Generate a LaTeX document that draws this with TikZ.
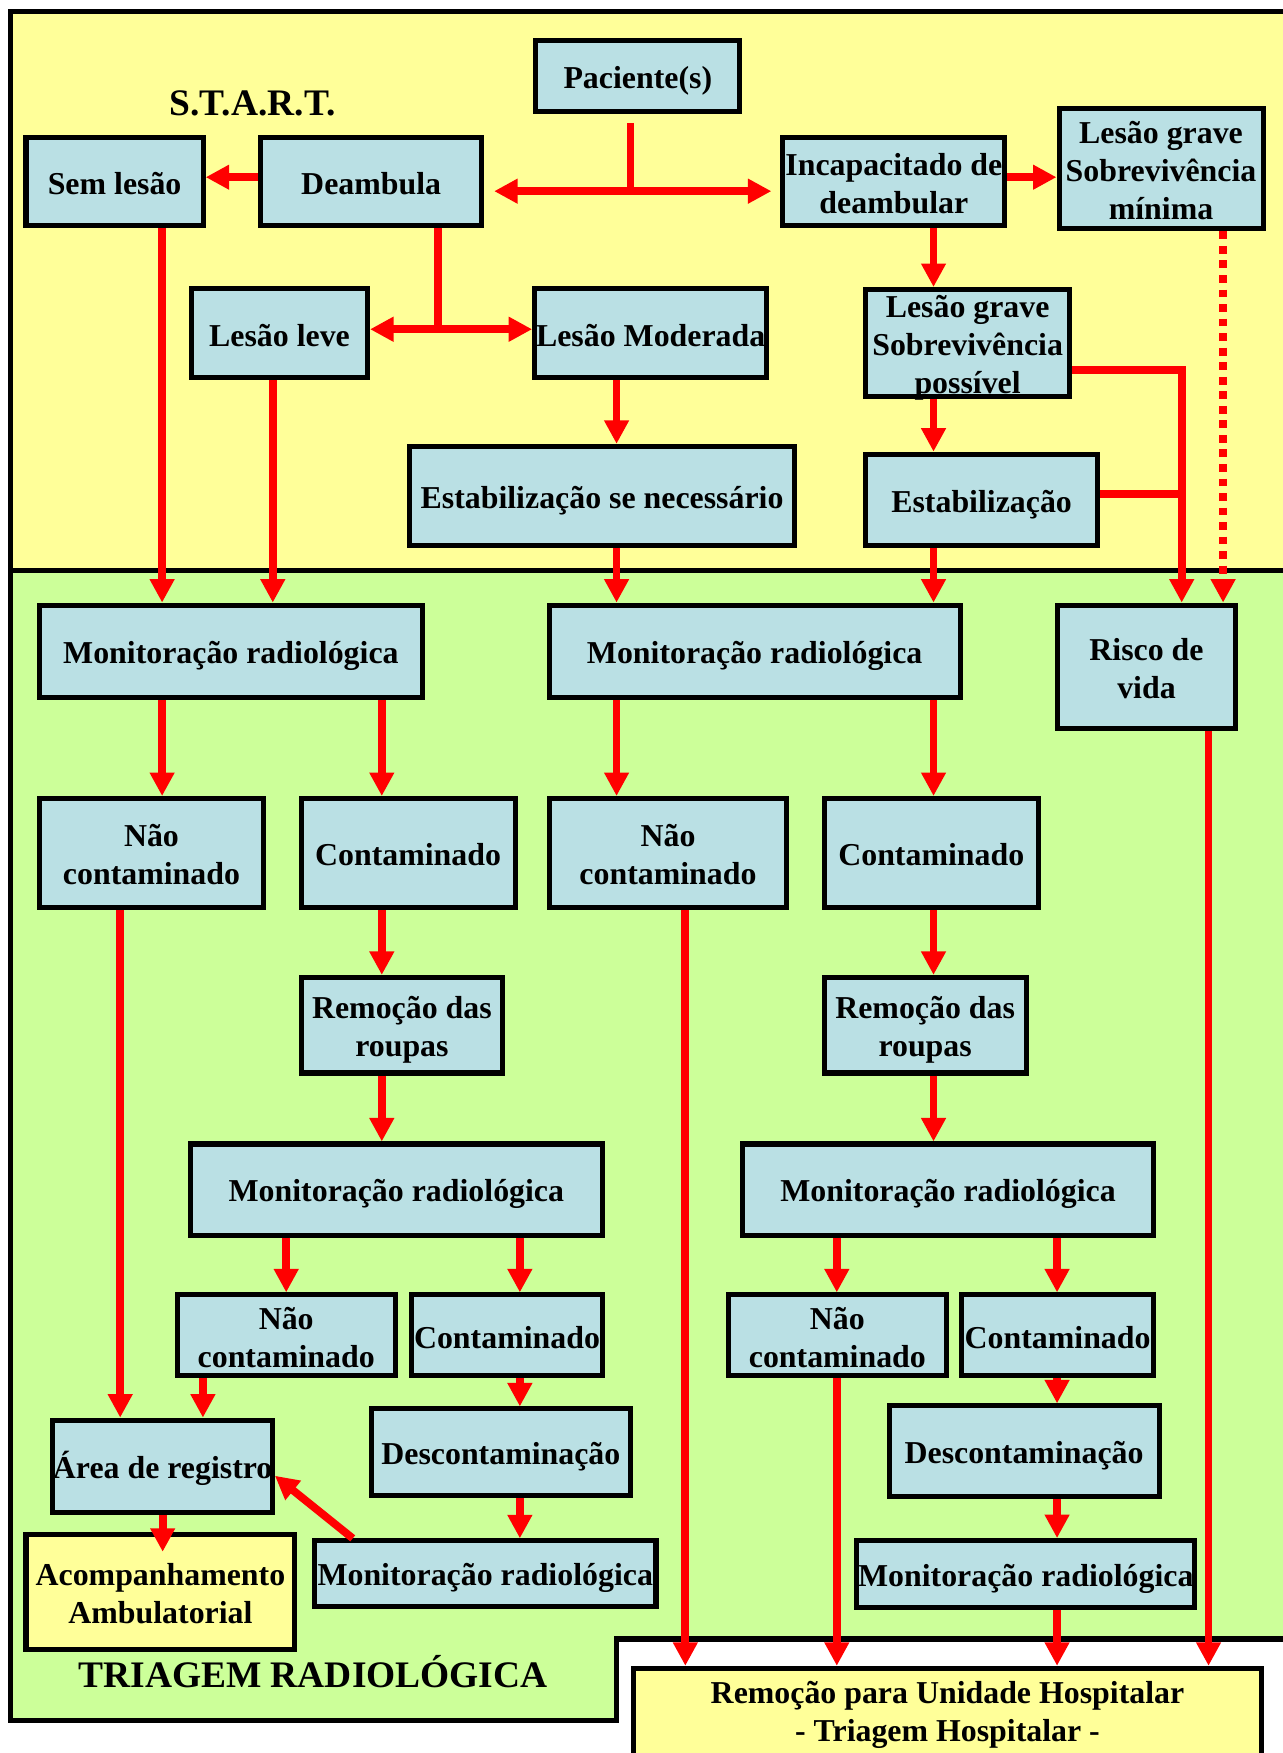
\documentclass[tikz,border=0pt]{standalone}
\usepackage{fontspec}
\setmainfont{Liberation Serif}
\usepackage{tikz}
\usetikzlibrary{arrows.meta}

\definecolor{amarelo}{RGB}{255,255,153}
\definecolor{verde}{RGB}{204,255,153}
\definecolor{azulclaro}{RGB}{186,224,228}
\newcommand{\linhastrut}{\rule[-5.5pt]{0pt}{34pt}}

\begin{document}
\begin{tikzpicture}[x=1pt, y=-1pt, >={Triangle[width=21pt,length=21pt]},
    caixa/.style={draw, line width=4.5pt, fill=azulclaro, align=center, inner sep=0pt,
        font=\fontsize{28.5}{34}\selectfont\bfseries,
        execute at begin node=\linhastrut, execute at end node=\linhastrut},
    titulo/.style={anchor=base, font=\fontsize{33.5}{38}\selectfont\bfseries},
    linha/.style={draw=red, line width=7pt}]
    \useasboundingbox (0,0) rectangle (1147,1568);

    % fundos: S.T.A.R.T. e triagem
    \fill[amarelo] (9,10) rectangle (1160,510);
    \fill[verde] (9,510) -- (1160,510) -- (1160,1466) -- (551,1466) -- (551,1539) -- (9,1539) -- cycle;
    \draw[line width=4.5pt] (1160,10) -- (9,10) -- (9,1539) -- (551,1539) -- (551,1466) -- (1160,1466);
    \draw[line width=4.5pt] (9,510) -- (1160,510);

    \node[titulo] (start) at (226,103) {S.T.A.R.T.};
    \node[titulo] (triagem) at (280,1509) {TRIAGEM RADIOLÓGICA};

    % S.T.A.R.T.
    \node[caixa, minimum width=182.5pt, minimum height=63.5pt] (pac) at (570.5,68) {Paciente(s)};
    \node[caixa, minimum width=158.5pt, minimum height=78.5pt] (semlesao) at (102.5,162.5) {Sem lesão};
    \node[caixa, minimum width=197.5pt, minimum height=78.5pt] (deamb) at (332,162.5) {Deambula};
    \node[caixa, minimum width=198.5pt, minimum height=78.5pt] (incap) at (799.5,162.5) {\linhastrut Incapacitado de\\deambular};
    \node[caixa, minimum width=182.5pt, minimum height=107.5pt] (gravemin) at (1038.5,151) {\linhastrut Lesão grave\\Sobrevivência\\mínima};
    \node[caixa, minimum width=157.5pt, minimum height=79.5pt] (leve) at (250,298) {Lesão leve};
    \node[caixa, minimum width=207.5pt, minimum height=79.5pt] (moder) at (582,298) {Lesão Moderada};
    \node[caixa, inner ysep=-3.25pt, minimum width=182.5pt, minimum height=95.5pt] (gravepos) at (865.5,307) {\linhastrut Lesão grave\\Sobrevivência\\possível};
    \node[caixa, minimum width=344.5pt, minimum height=88.5pt] (estabnec) at (538.5,443.5) {Estabilização se necessário};
    \node[caixa, minimum width=207.5pt, minimum height=81.5pt] (estab) at (878,447) {Estabilização};

    % triagem radiológica
    \node[caixa, minimum width=342.5pt, minimum height=82.5pt] (mon1) at (206.5,582.5) {Monitoração radiológica};
    \node[caixa, minimum width=367.5pt, minimum height=82.5pt] (mon2) at (675,582.5) {Monitoração radiológica};
    \node[caixa, minimum width=158.5pt, minimum height=110.5pt] (risco) at (1025.5,596.5) {\linhastrut Risco de\\vida};
    \node[caixa, minimum width=200.5pt, minimum height=97.5pt] (nc1) at (135.5,763) {\linhastrut Não\\contaminado};
    \node[caixa, minimum width=191.5pt, minimum height=97.5pt] (c1) at (365,763) {Contaminado};
    \node[caixa, minimum width=212.5pt, minimum height=97.5pt] (nc2) at (597.5,763) {\linhastrut Não\\contaminado};
    \node[caixa, minimum width=191.5pt, minimum height=97.5pt] (c2) at (833,763) {Contaminado};
    \node[caixa, minimum width=180.5pt, minimum height=85.5pt] (roupas1) at (359.5,917) {\linhastrut Remoção das\\roupas};
    \node[caixa, minimum width=180.5pt, minimum height=85.5pt] (roupas2) at (827.5,917) {\linhastrut Remoção das\\roupas};
    \node[caixa, minimum width=368.5pt, minimum height=81.5pt] (mon3) at (354.5,1064) {Monitoração radiológica};
    \node[caixa, minimum width=367.5pt, minimum height=81.5pt] (mon4) at (848,1064) {Monitoração radiológica};
    \node[caixa, minimum width=195pt, minimum height=72.5pt] (nc3) at (256,1194.5) {\linhastrut Não\\contaminado};
    \node[caixa, minimum width=170.5pt, minimum height=72.5pt] (c3) at (453.5,1194.5) {Contaminado};
    \node[caixa, minimum width=194.5pt, minimum height=72.5pt] (nc4) at (749,1194.5) {\linhastrut Não\\contaminado};
    \node[caixa, minimum width=171.5pt, minimum height=72.5pt] (c4) at (946,1194.5) {Contaminado};
    \node[caixa, minimum width=194.5pt, minimum height=82.5pt] (area) at (145.5,1311.5) {Área de registro};
    \node[caixa, minimum width=231.5pt, minimum height=77.5pt] (descont1) at (448,1299) {Descontaminação};
    \node[caixa, minimum width=241.5pt, minimum height=81pt] (descont2) at (916,1298) {Descontaminação};
    \node[caixa, fill=amarelo, minimum width=240.5pt, minimum height=103.5pt] (acomp) at (143.5,1424) {\linhastrut Acompanhamento\\Ambulatorial};
    \node[caixa, minimum width=305.5pt, minimum height=58.5pt] (mon5) at (434,1407.5) {Monitoração radiológica};
    \node[caixa, minimum width=302.5pt, minimum height=60pt] (mon6) at (917.5,1408) {Monitoração radiológica};
    \node[caixa, fill=amarelo, minimum width=562.5pt, minimum height=83.5pt] (hosp) at (847.5,1534) {Remoção para Unidade Hospitalar\\- Triagem Hospitalar -};

    % paciente(s) -> deambula / incapacitado
    \coordinate (tpac) at (564,171);
    \draw[linha, shorten <=8pt] (tpac |- pac.south) -- (tpac);
    \draw[<->, linha, shorten <=9pt, shorten >=8pt] (tpac -| deamb.east) -- (tpac -| incap.west);

    % deambula
    \draw[->, linha] (deamb.west |- 0,158.5) -- (semlesao.east |- 0,158.5);
    \coordinate (tdea) at (391.5,294.5);
    \draw[linha] (tdea |- deamb.south) -- (tdea);
    \draw[<->, linha] (tdea -| leve.east) -- (tdea -| moder.west);

    % incapacitado de deambular
    \draw[->, linha] (incap.east |- 0,158.5) -- (gravemin.west |- 0,158.5);
    \draw[->, linha, dash pattern=on 7pt off 6pt] (gravemin.south -| 1094,0) -- (risco.north -| 1094,0);
    \coordinate (tgrave) at (1057,331);
    \coordinate (testab) at (1057,442);
    \draw[linha] (estab.east |- testab) -- (testab);
    \draw[->, linha] (gravepos.east |- tgrave) -- (tgrave) -- (tgrave |- risco.north);

    % setas verticais
    \foreach \a/\b/\x in {semlesao/mon1/145, leve/mon1/244, moder/estabnec/551.5,
        estabnec/mon2/551.5, incap/gravepos/835, gravepos/estab/835, estab/mon2/835,
        mon1/nc1/145, mon1/c1/341.5, mon2/nc2/551.5, mon2/c2/835,
        nc1/area/107.5, c1/roupas1/341.5, roupas1/mon3/341.5, mon3/nc3/256, mon3/c3/465,
        nc3/area/181.5, c3/descont1/465, descont1/mon5/465,
        nc2/hosp/613, c2/roupas2/835, roupas2/mon4/835, mon4/nc4/748.5, mon4/c4/945.5,
        nc4/hosp/748.5, c4/descont2/945.5, descont2/mon6/945.5, mon6/hosp/945.5, risco/hosp/1081}
        \draw[->, linha] (\a.south -| \x,0) -- (\b.north -| \x,0);
    \draw[->, linha, shorten >=-18pt] (area.south -| 145.5,0) -- (acomp.north -| 145.5,0);

    % monitoração -> área de registro
    \draw[->, linha] (mon5.north -| 315.5,0) -- (area.east |- 0,1320);

\end{tikzpicture}
\end{document}
